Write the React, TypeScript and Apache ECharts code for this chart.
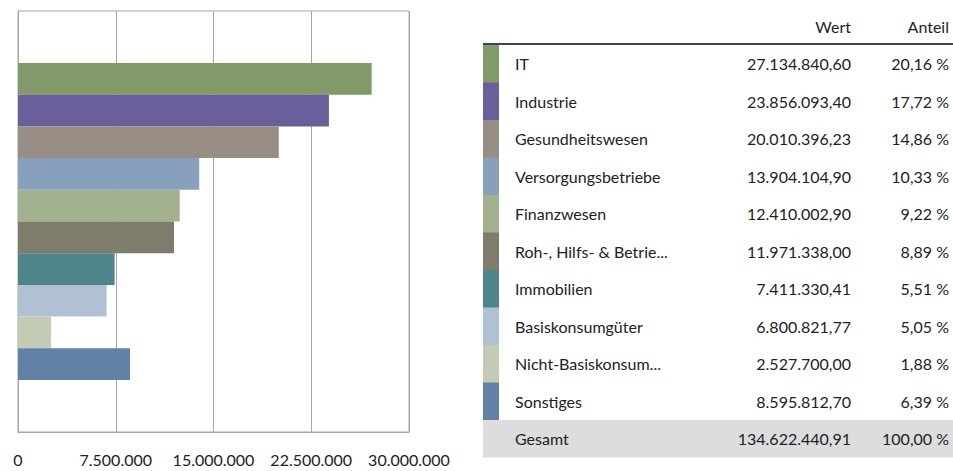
import React, { useEffect, useRef } from "react";
import * as echarts from "echarts";

const categories = [
  "IT",
  "Industrie",
  "Gesundheitswesen",
  "Versorgungsbetriebe",
  "Finanzwesen",
  "Roh-, Hilfs- & Betrie...",
  "Immobilien",
  "Basiskonsumgüter",
  "Nicht-Basiskonsum...",
  "Sonstiges",
];
const values = [
  27134840.6, 23856093.4, 20010396.23, 13904104.9, 12410002.9, 11971338.0,
  7411330.41, 6800821.77, 2527700.0, 8595812.7,
];
const shares = [20.16, 17.72, 14.86, 10.33, 9.22, 8.89, 5.51, 5.05, 1.88, 6.39];
const colors = [
  "#82996A",
  "#6A5E9B",
  "#988E83",
  "#87A1BD",
  "#A2B290",
  "#7E7C6B",
  "#4E858A",
  "#B1C1D4",
  "#C2CCB4",
  "#6181A7",
];
const totalLabel = "Gesamt";
const totalValue = 134622440.91;
const totalShare = 100.0;
const headers = ["Wert", "Anteil"];
const xTicks = [0, 7500000, 15000000, 22500000, 30000000];

function fmtDe(n: number, decimals: number): string {
  const fixed = n.toFixed(decimals);
  const [intPart, frac] = fixed.split(".");
  const withDots = intPart.replace(/\B(?=(\d{3})+(?!\d))/g, ".");
  return frac !== undefined ? withDots + "," + frac : withDots;
}

const FONT = 'Lato, "Noto Sans", sans-serif';
const TEXT = "#222222";

export default function App() {
  const ref = useRef<HTMLDivElement>(null);
  useEffect(() => {
    if (!ref.current) return;
    const chart = echarts.init(ref.current, undefined, { renderer: "svg" });

    const rowTop = 45;
    const rowH = 37.5;
    const tableLeft = 483;
    const nameX = 515;
    const valueX = 851;
    const shareX = 949;
    const fontSize = 16;

    const graphics: any[] = [];
    graphics.push({
      type: "text",
      x: valueX,
      y: 26,
      style: { text: headers[0], fill: TEXT, fontSize, fontFamily: FONT, align: "right", verticalAlign: "middle" },
    });
    graphics.push({
      type: "text",
      x: shareX,
      y: 26,
      style: { text: headers[1], fill: TEXT, fontSize, fontFamily: FONT, align: "right", verticalAlign: "middle" },
    });
    graphics.push({
      type: "line",
      shape: { x1: tableLeft, y1: 44, x2: 953, y2: 44 },
      style: { stroke: "#444444", lineWidth: 2 },
    });
    const rows = categories.map((c, i) => ({
      name: c,
      value: fmtDe(values[i], 2),
      share: fmtDe(shares[i], 2) + " %",
      color: colors[i] as string | null,
    }));
    rows.push({ name: totalLabel, value: fmtDe(totalValue, 2), share: fmtDe(totalShare, 2) + " %", color: null });
    rows.forEach((r, i) => {
      const y = rowTop + i * rowH;
      if (r.color) {
        graphics.push({
          type: "rect",
          shape: { x: tableLeft, y, width: 16, height: rowH + 0.5 },
          style: { fill: r.color },
        });
      } else {
        graphics.push({
          type: "rect",
          shape: { x: tableLeft, y, width: 953 - tableLeft, height: rowH },
          style: { fill: "#DDDDDD" },
        });
      }
      const cy = y + rowH / 2;
      graphics.push({
        type: "text",
        x: nameX,
        y: cy,
        style: { text: r.name, fill: TEXT, fontSize, fontFamily: FONT, align: "left", verticalAlign: "middle" },
      });
      graphics.push({
        type: "text",
        x: valueX,
        y: cy,
        style: { text: r.value, fill: TEXT, fontSize, fontFamily: FONT, align: "right", verticalAlign: "middle" },
      });
      graphics.push({
        type: "text",
        x: shareX,
        y: cy,
        style: { text: r.share, fill: TEXT, fontSize, fontFamily: FONT, align: "right", verticalAlign: "middle" },
      });
    });

    chart.setOption({
      animation: false,
      grid: {
        left: 18,
        right: 544,
        top: 11,
        bottom: 39,
        show: true,
        borderColor: "#A6A6A6",
        borderWidth: 1,
        containLabel: false,
      },
      xAxis: {
        type: "value",
        min: xTicks[0],
        max: xTicks[xTicks.length - 1],
        interval: xTicks[1] - xTicks[0],
        axisLine: { show: true, lineStyle: { color: "#A6A6A6" } },
        axisTick: { show: false },
        splitLine: { show: true, lineStyle: { color: "#A6A6A6", width: 1 } },
        axisLabel: {
          color: TEXT,
          fontSize,
          fontFamily: FONT,
          margin: 19,
          formatter: (v: number) => fmtDe(v, 0),
        },
      },
      yAxis: {
        type: "category",
        data: [""],
        inverse: true,
        axisLine: { show: true, lineStyle: { color: "#A6A6A6" } },
        axisTick: { show: false },
        axisLabel: { show: false },
      },
      series: categories.map((c, i) => ({
        name: c,
        type: "bar",
        data: [values[i]],
        itemStyle: { color: colors[i] },
        barGap: "0%",
        barCategoryGap: "24.7%",
      })),
      graphic: graphics,
    });
    return () => chart.dispose();
  }, []);
  return (
    <div
      ref={ref}
      style={{ position: "absolute", left: 0, top: 0, width: 953, height: 471 }}
    />
  );
}
